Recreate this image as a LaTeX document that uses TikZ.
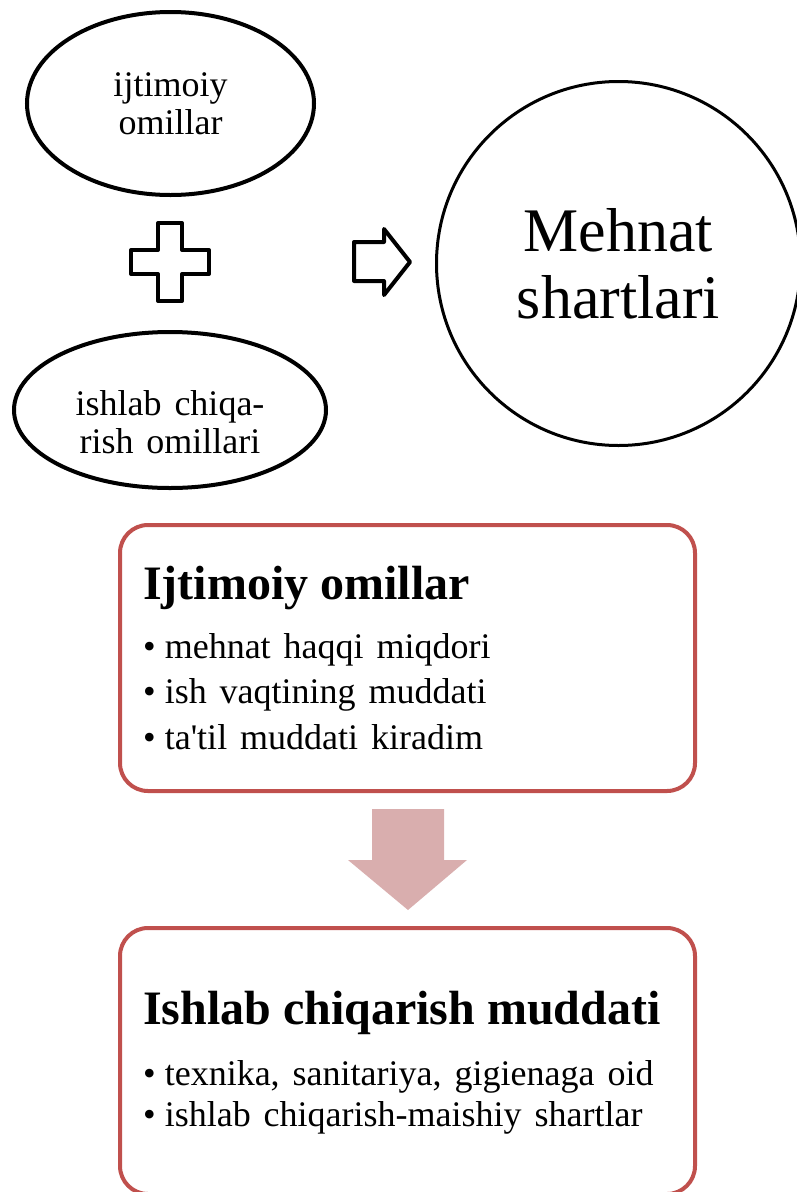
\documentclass[tikz,border=0pt]{standalone}
\usepackage{fontspec}
\setmainfont{Liberation Serif}[Ligatures=TeXOff]
\usetikzlibrary{shapes.geometric}
\definecolor{boxRed}{HTML}{C0504D}
\definecolor{flowPink}{HTML}{D9AEAE}
\newcommand{\ovalFont}{\fontsize{36}{38}\selectfont\spaceskip=0.36em\relax}
\newcommand{\goalFont}{\fontsize{62}{67}\selectfont}
\newcommand{\titleFont}{\fontsize{48}{52}\selectfont\bfseries}
\newcommand{\itemFont}{\fontsize{36}{44}\selectfont\spaceskip=0.36em\relax}
\newcommand{\itemBullet}{\makebox[0.6em][l]{\textbullet}}
\tikzset{
  oval/.style={ellipse, draw=black, line width=4pt, align=center, inner sep=0pt, font=\ovalFont},
  goal/.style={circle, draw=black, line width=3pt, align=center, inner sep=0pt, font=\goalFont},
  sign/.style={draw=black, line width=4pt, line join=round},
  factorBox/.style={rectangle, rounded corners=28pt, draw=boxRed, line width=4pt, anchor=north west, minimum width=575pt, minimum height=266pt, inner sep=0pt},
  boxTitle/.style={font=\titleFont, anchor=base west, inner sep=0pt},
  boxItem/.style={font=\itemFont, anchor=base west, inner sep=0pt},
  flowArrow/.style={fill=flowPink, draw=none}
}

\begin{document}
\begin{tikzpicture}[x=1pt,y=1pt]
\useasboundingbox (0,0) rectangle (796,-1192);

% factors plus sign, then the result circle
\node[oval, minimum width=287pt, minimum height=183pt] (socOval) at (170.5,-103.5) {ijtimoiy\\omillar};
\draw[sign] (158,-223) -- (182,-223) -- (182,-250) -- (209,-250) -- (209,-274) -- (182,-274)
  -- (182,-301) -- (158,-301) -- (158,-274) -- (131,-274) -- (131,-250) -- (158,-250) -- cycle;
\node[oval, minimum width=312pt, minimum height=156pt] (prodOval) at (170,-410) {};
\node[font=\ovalFont, align=center, inner sep=0pt] (prodText) at (170,-421.7) {ishlab chiqa-\\rish omillari};

\draw[sign] (354,-242) -- (384,-242) -- (384,-229) -- (410,-262) -- (384,-295) -- (384,-281) -- (354,-281) -- cycle;
\node[goal, minimum size=364pt] (goalCircle) at (618.5,-263.5) {Mehnat\\shartlari};

% social factors box
\node[factorBox] (socBox) at (118,-523) {};
\node[boxTitle] (socTitle) at (143,-599) {Ijtimoiy omillar};
\foreach \txt [count=\i] in {mehnat haqqi miqdori, ish vaqtining muddati, ta'til muddati kiradim}
  \node[boxItem] (socItem\i) at (143,{-658-45.5*(\i-1)}) {\itemBullet\txt};

\fill[flowArrow] (372,-809) -- (444,-809) -- (444,-860) -- (467,-860) -- (408,-910)
  -- (348,-860) -- (372,-860) -- cycle;

% production box
\node[factorBox] (prodBox) at (118,-926) {};
\node[boxTitle] (prodTitle) at (143,-1024) {Ishlab chiqarish muddati};
\foreach \txt [count=\i] in {{texnika, sanitariya, gigienaga oid}, ishlab chiqarish-maishiy shartlar}
  \node[boxItem] (prodItem\i) at (143,{-1085-41*(\i-1)}) {\itemBullet\txt};

\end{tikzpicture}
\end{document}
